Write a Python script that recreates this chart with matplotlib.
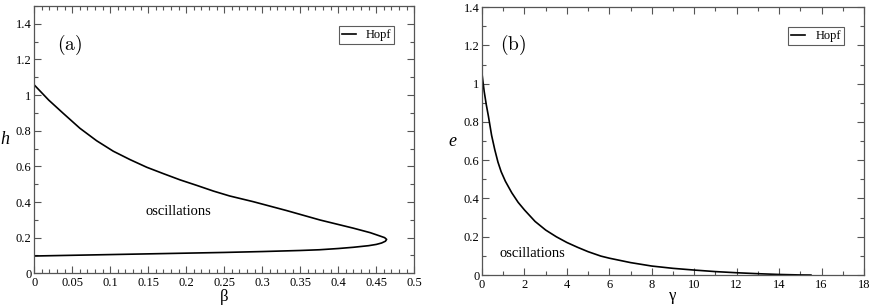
import matplotlib
matplotlib.use('Agg')
import matplotlib.pyplot as plt
from matplotlib.ticker import MultipleLocator, FuncFormatter

plt.rcParams['font.family'] = ['Liberation Serif', 'DejaVu Serif']
plt.rcParams['mathtext.fontset'] = 'cm'

# (a) Hopf curve in (beta, h): upper branch out to the turning point, then lower branch back
beta_hopf = [0.0, 0.019, 0.038, 0.06, 0.082, 0.104, 0.126, 0.148, 0.17, 0.192, 0.214,
             0.236, 0.257, 0.288, 0.332, 0.376, 0.42, 0.442, 0.455, 0.461, 0.4636,
             0.462, 0.457, 0.45, 0.44, 0.42, 0.40, 0.375, 0.35, 0.30, 0.25, 0.20,
             0.15, 0.10, 0.05, 0.0]
h_hopf = [1.057, 0.972, 0.898, 0.814, 0.744, 0.685, 0.638, 0.595, 0.559, 0.524, 0.493,
          0.461, 0.434, 0.402, 0.352, 0.299, 0.253, 0.228, 0.209, 0.200, 0.190,
          0.180, 0.170, 0.162, 0.155, 0.146, 0.139, 0.132, 0.128, 0.122, 0.117, 0.113,
          0.109, 0.105, 0.101, 0.097]

# (b) Hopf curve in (gamma, e)
gamma_hopf = [0.0, 0.1, 0.2, 0.3, 0.45, 0.6, 0.75, 0.9, 1.1, 1.4, 1.7, 2.0, 2.5, 3.0,
              3.5, 4.0, 4.5, 5.0, 5.6, 6.0, 7.0, 8.0, 9.0, 10.0, 11.0, 12.0, 13.0,
              14.0, 15.0, 15.5]
e_hopf = [1.05, 0.96, 0.89, 0.83, 0.73, 0.655, 0.59, 0.54, 0.49, 0.43, 0.38, 0.34, 0.28,
          0.235, 0.20, 0.17, 0.145, 0.122, 0.099, 0.088, 0.065, 0.047, 0.035, 0.026,
          0.018, 0.012, 0.007, 0.003, 0.0005, 0.0]


def fmt(v, pos):
    return '%g' % round(v, 4)


def style_axes(ax, xmaj, xmin_, ymaj, ymin_):
    ax.xaxis.set_major_locator(MultipleLocator(xmaj))
    ax.xaxis.set_minor_locator(MultipleLocator(xmin_))
    ax.yaxis.set_major_locator(MultipleLocator(ymaj))
    ax.yaxis.set_minor_locator(MultipleLocator(ymin_))
    ax.xaxis.set_major_formatter(FuncFormatter(fmt))
    ax.yaxis.set_major_formatter(FuncFormatter(fmt))
    ax.tick_params(which='both', direction='in', top=True, right=True,
                   labelsize=9, color='#555555', width=0.8)
    ax.tick_params(axis='x', pad=3)
    ax.tick_params(axis='y', pad=2)
    ax.tick_params(which='major', length=5)
    ax.tick_params(which='minor', length=3)
    for s in ax.spines.values():
        s.set_color('#555555')
        s.set_linewidth(0.9)


fig = plt.figure(figsize=(8.72, 3.08), dpi=100)
ax1 = fig.add_axes([0.0393, 0.1127, 0.4358, 0.8678])
ax2 = fig.add_axes([0.5528, 0.107, 0.438, 0.870])

#--------------------(a)-----------------
ax1.plot(beta_hopf, h_hopf, color='black', lw=1.2, label='Hopf')
ax1.set_xlim(0, 0.5)
ax1.set_ylim(0, 1.5)
style_axes(ax1, 0.05, 0.01, 0.2, 0.1)
ax1.set_yticks([0, 0.2, 0.4, 0.6, 0.8, 1.0, 1.2, 1.4])
ax1.set_xlabel('β', fontsize=12, va='top')
ax1.set_ylabel('h', fontsize=13, style='italic', rotation=0, va='center', ha='center')
ax1.xaxis.set_label_coords(0.5, -0.058)
ax1.yaxis.set_label_coords(-0.077, 0.50)
ax1.text(0.047, 1.28, r'$\mathrm{(a)}$', fontsize=14, ha='center', va='center')
ax1.text(0.19, 0.345, 'oscillations', fontsize=10.5, ha='center', va='center')

#--------------------(b)-----------------
ax2.plot(gamma_hopf, e_hopf, color='black', lw=1.2, label='Hopf')
ax2.set_xlim(0, 18)
ax2.set_ylim(0, 1.4)
style_axes(ax2, 2, 1, 0.2, 0.1)
ax2.set_xlabel('γ', fontsize=12, va='top')
ax2.set_ylabel('e', fontsize=13, style='italic', rotation=0, va='center', ha='center')
ax2.xaxis.set_label_coords(0.5, -0.05)
ax2.yaxis.set_label_coords(-0.0785, 0.50)
ax2.text(1.46, 1.20, r'$\mathrm{(b)}$', fontsize=14, ha='center', va='center')
ax2.text(2.37, 0.115, 'oscillations', fontsize=10.5, ha='center', va='center')

for a in [ax1, ax2]:
    leg = a.legend(loc='upper right', fontsize=9, fancybox=False, handlelength=1.1,
                   borderaxespad=1.6, borderpad=0.25, handletextpad=0.8)
    leg.get_frame().set_edgecolor('#333333')
    leg.get_frame().set_linewidth(0.8)

plt.savefig('out.png', dpi=100)
